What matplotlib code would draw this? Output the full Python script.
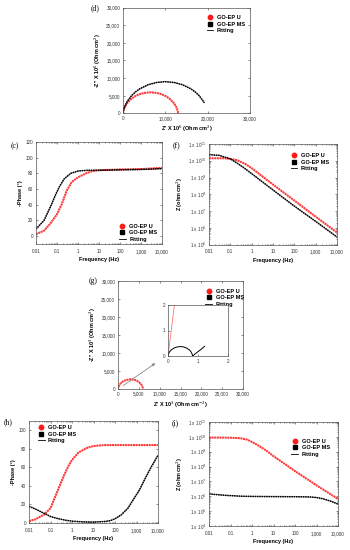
import matplotlib
matplotlib.use("Agg")
import math
import matplotlib.pyplot as plt
from matplotlib.ticker import FuncFormatter, FixedLocator, LogLocator, NullFormatter
from matplotlib.lines import Line2D

# ---------------- data ----------------
# (d) Nyquist, Z' and -Z'' (x 10^6 Ohm cm^2)
d_u_zr = [0, 100, 250, 500, 1000, 2000, 3000, 4000, 5000, 6500, 8000, 9000, 10000, 11000, 12000, 12500, 12750, 12900, 13000]
d_u_zi = [0, 850, 1380, 2030, 2980, 4200, 4980, 5500, 5820, 6000, 5820, 5500, 4980, 4200, 2980, 2030, 1380, 850, 0]
d_ms_zr = [0, 50, 100, 250, 500, 1000, 2000, 3000, 4000, 6000, 8000, 10000, 12000, 14000, 16000, 17000, 18000, 19000, 19200]
d_ms_zi = [0, 360, 680, 1390, 2230, 3420, 5030, 6160, 7010, 8170, 8800, 9000, 8800, 8170, 7010, 6160, 5030, 3420, 3000]

# (c) Bode phase
c_f_u = [0.01, 0.024, 0.048, 0.1, 0.17, 0.29, 0.5, 1, 2.4, 5, 10, 100, 1000, 10000]
c_ph_u = [2.5, 7, 16, 28, 41, 58, 69, 75, 80, 83, 84, 85, 85.5, 87]
c_f_ms = [0.01, 0.024, 0.048, 0.09, 0.13, 0.22, 0.45, 1, 3, 10, 100, 1000, 10000]
c_ph_ms = [9, 20, 37, 54, 63, 73, 80, 83, 84, 84, 84.5, 85, 86]

# (f) Bode modulus
f_f_u = [0.01, 0.05, 0.1, 0.2, 0.5, 1, 10, 100, 1000, 10000]
f_z_u = [1.4e10, 1.4e10, 1.3e10, 1.1e10, 6.5e9, 3.6e9, 3.8e8, 4.2e7, 4.6e6, 5.2e5]
f_f_ms = [0.01, 0.03, 0.1, 0.2, 0.5, 1, 10, 100, 1000, 10000]
f_z_ms = [2.3e10, 2.1e10, 1.3e10, 7.5e9, 3.3e9, 1.7e9, 1.8e8, 1.95e7, 2.4e6, 2.8e5]

# (g) Nyquist (x 10^3)
g_u_zr = [0, 30, 100, 300, 600, 1000, 1500, 2000, 3000, 4000, 4500, 5000, 5400, 5700, 5900, 5970, 6000]
g_u_zi = [0, 280, 510, 1030, 1510, 1940, 2300, 2530, 2700, 2530, 2300, 1940, 1510, 1030, 510, 280, 0]
g_ms_zr = [0, 0.02, 0.05, 0.1, 0.2, 0.3, 0.41, 0.52, 0.62, 0.72, 0.77, 0.80, 0.82, 0.9, 1.0, 1.1, 1.22]
g_ms_zi = [0, 0.09, 0.16, 0.23, 0.31, 0.355, 0.37, 0.355, 0.31, 0.23, 0.16, 0.09, 0, 0.08, 0.17, 0.26, 0.38]

# (h) Bode phase
h_f_u = [0.01, 0.02, 0.05, 0.1, 0.2, 0.4, 0.7, 1, 2, 5, 10, 30, 100, 1000, 10000]
h_ph_u = [2, 4, 9, 16, 33, 50, 62, 68, 76, 81, 83, 84, 84, 84, 84]
h_f_ms = [0.01, 0.02, 0.05, 0.1, 0.2, 0.5, 1, 3, 10, 30, 60, 100, 200, 400, 700, 1400, 2800, 5000, 10000]
h_ph_ms = [18, 15, 10.5, 7, 5, 3, 2, 1.2, 1, 1.5, 2.5, 4.5, 9, 16, 25, 36, 50, 61, 73]

# (i) Bode modulus
i_f_u = [0.01, 0.1, 0.3, 0.6, 1, 2, 5, 10, 100, 1000, 3000, 10000]
i_z_u = [9e9, 8.8e9, 8e9, 6.5e9, 4.5e9, 2.6e9, 1.1e9, 5e8, 5e7, 5.5e6, 2e6, 6.5e5]
i_f_ms = [0.01, 0.03, 0.1, 0.3, 1, 10, 100, 500, 1000, 2000, 5000, 10000]
i_z_ms = [1.45e6, 1.25e6, 1.1e6, 1.02e6, 9.8e5, 9.5e5, 9.3e5, 9e5, 8.3e5, 6.8e5, 4.5e5, 3e5]

freq_ticks = [0.01, 0.1, 1, 10, 100, 1000, 10000]
freq_labels = ["0.01", "0.1", "1", "10", "100", "1,000", "10,000"]
series_names = ["GO-EP U", "GO-EP MS", "Fitting"]

# ---------------- style ----------------
plt.rcParams['font.family'] = ['Liberation Sans', 'DejaVu Sans']
W, H = 350, 550
fig = plt.figure(figsize=(3.5, 5.5), dpi=100)
RED = '#ff1a1a'
TICK_FS = 3.3
LAB_FS = 4.0


def add_ax(l, t, r, b):
    return fig.add_axes([l / W, 1 - b / H, (r - l) / W, (b - t) / H])


def style(ax):
    for s in ax.spines.values():
        s.set_linewidth(0.5)
        s.set_color('#555555')
    ax.tick_params(which='both', direction='in', top=True, right=True, labelsize=TICK_FS,
                   width=0.4, length=1.6, pad=2, colors='#333333')
    ax.tick_params(which='minor', length=0.9)


def freq_axis(ax):
    ax.set_xscale('log')
    ax.set_xlim(0.01, 10000)
    ax.xaxis.set_major_locator(FixedLocator(freq_ticks))
    ax.set_xticklabels(freq_labels)
    ax.xaxis.set_minor_formatter(NullFormatter())
    ax.tick_params(axis='x', pad=3.5)
    ax.set_xlabel("Frequency (Hz)", fontsize=LAB_FS, fontweight='bold', labelpad=2.5)


def comma(x, pos):
    return f"{int(round(x)):,}"


def powlab(x, pos):
    return f"1 x 10$^{{{int(round(math.log10(x)))}}}$"


def legend(ax, loc, anchor, fs=4.1):
    handles = [Line2D([], [], color=RED, marker='o', ls='none', ms=3.2),
               Line2D([], [], color='black', marker='s', ls='none', ms=3.0),
               Line2D([], [], color='black', lw=0.6)]
    lg = ax.legend(handles, series_names, loc=loc, bbox_to_anchor=anchor, frameon=False,
                   prop={'size': fs, 'weight': 'bold'}, handlelength=1.2, handletextpad=0.6,
                   labelspacing=0.25, borderaxespad=0)
    return lg


def plot_u(ax, x, y):
    ax.plot(x, y, color=RED, lw=1.4, ls=(0, (1.0, 0.35)))
    ax.plot(x, y, color='#ff7777', lw=0.3)


def plot_ms(ax, x, y):
    ax.plot(x, y, color='black', lw=1.1, ls=(0, (1.0, 0.5)))
    ax.plot(x, y, color='black', lw=0.3)


def panel_label(x, y, s):
    fig.text(x / W, 1 - y / H, s, fontsize=5.5, family='Liberation Serif', ha='center', va='center')

# ---------- (d) ----------
ax = add_ax(123, 7.5, 250, 113.5)
style(ax)
plot_u(ax, d_u_zr, d_u_zi)
plot_ms(ax, d_ms_zr, d_ms_zi)
ax.set_xlim(0, 30000)
ax.set_ylim(0, 30000)
ax.set_xticks([0, 10000, 20000, 30000])
ax.set_yticks(range(0, 30001, 5000))
ax.xaxis.set_major_formatter(FuncFormatter(comma))
ax.yaxis.set_major_formatter(FuncFormatter(comma))
ax.set_xlabel("Z' X 10$^6$ (Ohm cm$^2$)", fontsize=LAB_FS, fontweight='bold', labelpad=2)
ax.set_ylabel("-Z'' X 10$^6$ (Ohm cm$^2$)", fontsize=LAB_FS, fontweight='bold', labelpad=2)
legend(ax, 'upper left', (0.64, 0.95))
panel_label(95, 8, "(d)")

# ---------- (c) ----------
ax = add_ax(36, 142, 162, 244)
style(ax)
freq_axis(ax)
plot_u(ax, c_f_u, c_ph_u)
plot_ms(ax, c_f_ms, c_ph_ms)
ax.set_ylim(-10, 120)
ax.set_yticks(range(0, 121, 20))
ax.set_ylabel("-Phase (°)", fontsize=LAB_FS, fontweight='bold', labelpad=2)
legend(ax, 'upper left', (0.64, 0.22))
panel_label(15, 146, "(c)")

# ---------- (f) ----------
ax = add_ax(209, 144, 337, 244.5)
style(ax)
freq_axis(ax)
plot_u(ax, f_f_u, f_z_u)
plot_ms(ax, f_f_ms, f_z_ms)
ax.set_yscale('log')
ax.set_ylim(1e5, 1e11)
ax.yaxis.set_major_locator(LogLocator(base=10, numticks=10))
ax.yaxis.set_major_formatter(FuncFormatter(powlab))
ax.yaxis.set_minor_formatter(NullFormatter())
ax.set_ylabel("Z (ohm cm$^2$)", fontsize=LAB_FS, fontweight='bold', labelpad=2)
legend(ax, 'upper left', (0.62, 0.93))
panel_label(176, 146, "(f)")

# ---------- (g) ----------
ax = add_ax(118, 281, 243, 389)
style(ax)
plot_u(ax, g_u_zr, g_u_zi)
ax.set_xlim(0, 30000)
ax.set_ylim(0, 30000)
ax.set_xticks(range(0, 30001, 5000))
ax.set_yticks(range(0, 30001, 5000))
ax.xaxis.set_major_formatter(FuncFormatter(comma))
ax.yaxis.set_major_formatter(FuncFormatter(comma))
ax.set_xlabel("Z' X 10$^3$ (Ohm cm$^{-2}$)", fontsize=LAB_FS, fontweight='bold', labelpad=2)
ax.set_ylabel("-Z'' X 10$^3$ (Ohm cm$^2$)", fontsize=LAB_FS, fontweight='bold', labelpad=2)
legend(ax, 'upper left', (0.68, 0.95))
ax.annotate("", xy=(9500, 7600), xytext=(700, 500),
            arrowprops=dict(arrowstyle='-|>', color='#888888', lw=0.6, mutation_scale=4))
panel_label(93, 281, "(g)")

ins = add_ax(168, 305, 228, 356)
style(ins)
ins.tick_params(which='both', top=False, right=False)
ins.plot(g_u_zr, g_u_zi, color=RED, lw=0.6, alpha=0.6)
ins.plot(g_ms_zr, g_ms_zi, color='black', lw=0.7)
ins.set_xlim(0, 2)
ins.set_ylim(0, 2)
ins.set_xticks([0, 1, 2])
ins.set_yticks([0, 1, 2])

# ---------- (h) ----------
ax = add_ax(29, 421, 158, 523)
style(ax)
freq_axis(ax)
plot_u(ax, h_f_u, h_ph_u)
plot_ms(ax, h_f_ms, h_ph_ms)
ax.set_ylim(0, 110)
ax.set_yticks(range(0, 101, 20))
ax.set_ylabel("-Phase (°)", fontsize=LAB_FS, fontweight='bold', labelpad=2)
legend(ax, 'upper left', (0.05, 0.98))
panel_label(8, 422, "(h)")

# ---------- (i) ----------
ax = add_ax(209, 422, 338, 526)
style(ax)
freq_axis(ax)
plot_u(ax, i_f_u, i_z_u)
plot_ms(ax, i_f_ms, i_z_ms)
ax.set_yscale('log')
ax.set_ylim(1e4, 1e11)
ax.yaxis.set_major_locator(LogLocator(base=10, numticks=10))
ax.yaxis.set_major_formatter(FuncFormatter(powlab))
ax.yaxis.set_minor_formatter(NullFormatter())
ax.set_ylabel("Z (ohm cm$^2$)", fontsize=LAB_FS, fontweight='bold', labelpad=2)
legend(ax, 'upper left', (0.62, 0.86))
panel_label(175, 423, "(i)")

fig.savefig("out.png", dpi=100, facecolor='white')
